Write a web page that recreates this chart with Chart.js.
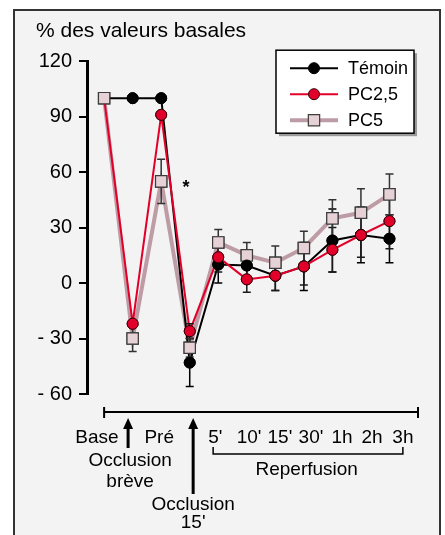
<!DOCTYPE html>
<html lang="fr">
<head>
<meta charset="utf-8">
<style>
  body { margin: 0; background: #fff; }
  /* grey panel behind the chart */
  #frame { position: absolute; left: 13px; top: 9px; width: 424px; height: 540px; border: 2px solid #333; background: #f3f3f3; }
  #c { position: absolute; left: 0; top: 0; }
</style>
</head>
<body>
<div id="frame"></div>
<canvas id="c" width="445" height="535"></canvas>

<script src="https://cdn.jsdelivr.net/npm/chart.js"></script>
<script>
// Data (% des valeurs basales)
const categories = ['Base', 'Occlusion brève', 'Pré', "Occlusion 15'", "5'", "10'", "15'", "30'", '1h', '2h', '3h'];
const temoin = [100, 100, 100, -43, 10, 9.5, 4, 9, 23, 26, 24];
const temoinErr = [null, null, null, 13, 10, 6, 8, 13, 17, 15, 13];
const pc25 = [100, -22, 91, -26, 14, 2, 4, 9, 18, 26, 33.5];
const pc25Err = [null, null, null, 4, 8, 7, 8, 10, 12, 12, 15];
const pc5 = [100, -30, 55, -35, 22, 15, 11, 19, 35, 38, 48];
const pc5Err = [null, 7, 12, 5, 7, 7, 9, 9, 10, 13, 11];

// Axis ticks and labels
const yTicks = [-60, -30, 0, 30, 60, 90, 120];
const yTickLabels = ['- 60', '- 30', '0', '30', '60', '90', '120'];
const xAxisLabels = ['Base', 'Pré', "5'", "10'", "15'", "30'", '1h', '2h', '3h'];
// where each label sits on the x scale (labels are slightly off the points in the figure)
const xAxisLabelPos = [-0.25, 1.93, 3.9, 5.08, 6.16, 7.25, 8.34, 9.39, 10.47];

const FONT = '"Liberation Sans", Arial, Helvetica, sans-serif';

function toPoints(values) {
    return values.map((v, i) => ({ x: i, y: v }));
}

// hide the base marker of the circle series, the square sits on top there
const hideFirst = (r) => (ctx) => ctx.dataIndex === 0 ? 0 : r;

// Error bars are drawn after the lines, then the markers are drawn again on top
const errorBars = {
    id: 'errorBars',
    afterDatasetsDraw(chart) {
        const ctx = chart.ctx, xs = chart.scales.x, ys = chart.scales.y;
        ctx.save();
        chart.data.datasets.forEach(ds => {
            ds.errors.forEach((e, i) => {
                if (e == null) return;
                const px = xs.getPixelForValue(i);
                const top = ys.getPixelForValue(ds.data[i].y + e);
                const bot = ys.getPixelForValue(ds.data[i].y - e);
                ctx.strokeStyle = ds.errorColor;
                ctx.lineWidth = 1.5;
                ctx.beginPath();
                ctx.moveTo(px, top); ctx.lineTo(px, bot);
                ctx.moveTo(px - 4, top); ctx.lineTo(px + 4, top);
                ctx.moveTo(px - 4, bot); ctx.lineTo(px + 4, bot);
                ctx.stroke();
            });
        });
        // redraw markers above the bars, bottom dataset first
        const metas = chart.getSortedVisibleDatasetMetas().slice().reverse();
        metas.forEach(meta => meta.data.forEach(pt => pt.draw(ctx, chart.chartArea)));
        ctx.restore();
    }
};

function drawMarker(ctx, style, x, y, r, fill, stroke, bw) {
    ctx.beginPath();
    if (style === 'rect') {
        const s = Math.SQRT1_2 * r;
        ctx.rect(x - s, y - s, 2 * s, 2 * s);
    } else {
        ctx.arc(x, y, r, 0, Math.PI * 2);
    }
    ctx.fillStyle = fill;
    ctx.fill();
    ctx.lineWidth = bw;
    ctx.strokeStyle = stroke;
    ctx.stroke();
}

// Boxed legend in the top right corner
const boxLegend = {
    id: 'boxLegend',
    afterDraw(chart) {
        const ctx = chart.ctx, area = chart.chartArea;
        const w = 138, h = 83;
        const bx = area.right - 4 - w, by = area.top - 11;
        ctx.save();
        ctx.fillStyle = '#9a9a9a';
        ctx.fillRect(bx + 3, by + 3, w, h);
        ctx.fillStyle = '#fff';
        ctx.fillRect(bx, by, w, h);
        ctx.strokeStyle = '#000';
        ctx.lineWidth = 1.5;
        ctx.strokeRect(bx, by, w, h);
        chart.data.datasets.forEach((ds, i) => {
            const ry = by + 18 + i * 26;
            ctx.strokeStyle = ds.borderColor;
            ctx.lineWidth = ds.borderWidth;
            ctx.beginPath();
            ctx.moveTo(bx + 14, ry); ctx.lineTo(bx + 62, ry);
            ctx.stroke();
            drawMarker(ctx, ds.pointStyle, bx + 38, ry, ds.legendRadius, ds.pointBackgroundColor, ds.pointBorderColor, ds.pointBorderWidth);
            ctx.fillStyle = '#000';
            ctx.font = '18px ' + FONT;
            ctx.textAlign = 'left';
            ctx.textBaseline = 'middle';
            ctx.fillText(ds.label, bx + 72, ry + 1);
        });
        ctx.restore();
    }
};

function upArrow(ctx, px, top, bottom) {
    ctx.beginPath();
    ctx.moveTo(px, top);
    ctx.lineTo(px - 5, top + 11);
    ctx.lineTo(px + 5, top + 11);
    ctx.closePath();
    ctx.fill();
    ctx.fillRect(px - 1.5, top + 9, 3, bottom - top - 9);
}

// Time axis drawn under the plot: line, labels, arrows and reperfusion bracket
const timeAxis = {
    id: 'timeAxis',
    afterDraw(chart) {
        const ctx = chart.ctx, xs = chart.scales.x, ys = chart.scales.y;
        const axisY = chart.chartArea.bottom + 18;
        const x0 = xs.getPixelForValue(0), x1 = xs.getPixelForValue(11);
        ctx.save();
        ctx.strokeStyle = '#000';
        ctx.fillStyle = '#000';
        ctx.lineWidth = 2;
        ctx.beginPath();
        ctx.moveTo(x0, axisY); ctx.lineTo(x1, axisY);
        ctx.moveTo(x0, axisY - 5); ctx.lineTo(x0, axisY + 6);
        ctx.moveTo(x1, axisY - 5); ctx.lineTo(x1, axisY + 6);
        ctx.stroke();

        ctx.font = '19px ' + FONT;
        ctx.textAlign = 'center';
        ctx.textBaseline = 'alphabetic';
        xAxisLabels.forEach((t, i) => ctx.fillText(t, xs.getPixelForValue(xAxisLabelPos[i]), axisY + 31));

        // occlusion arrows
        const a1 = xs.getPixelForValue(0.84), a2 = xs.getPixelForValue(3.12);
        upArrow(ctx, a1, axisY + 6, axisY + 36);
        upArrow(ctx, a2, axisY + 6, axisY + 82);
        ctx.fillText('Occlusion', xs.getPixelForValue(0.91), axisY + 54);
        ctx.fillText('brève', xs.getPixelForValue(0.91), axisY + 75);
        ctx.fillText('Occlusion', a2, axisY + 98);
        ctx.fillText("15'", a2, axisY + 116);

        // reperfusion bracket
        const b0 = xs.getPixelForValue(3.82), b1 = xs.getPixelForValue(10.47);
        ctx.lineWidth = 1.5;
        ctx.beginPath();
        ctx.moveTo(b0, axisY + 35); ctx.lineTo(b0, axisY + 42);
        ctx.lineTo(b1, axisY + 42); ctx.lineTo(b1, axisY + 35);
        ctx.stroke();
        ctx.fillText('Reperfusion', xs.getPixelForValue(7.1), axisY + 63);

        // significance mark
        ctx.font = 'bold 18px ' + FONT;
        ctx.fillText('*', xs.getPixelForValue(2.87), ys.getPixelForValue(54) + 10);
        ctx.restore();
    }
};

const ctx = document.getElementById('c').getContext('2d');
const chart = new Chart(ctx, {
    type: 'line',
    data: {
        labels: categories,
        datasets: [{
            label: 'Témoin',
            data: toPoints(temoin),
            errors: temoinErr,
            errorColor: '#000',
            order: 1,
            borderColor: '#000',
            borderWidth: 2,
            pointStyle: 'circle',
            pointRadius: hideFirst(5.5),
            legendRadius: 5.5,
            pointBackgroundColor: '#000',
            pointBorderColor: '#000',
            pointBorderWidth: 1
        }, {
            label: 'PC2,5',
            data: toPoints(pc25),
            errors: pc25Err,
            errorColor: '#1a1a1a',
            order: 0,
            borderColor: '#e2002b',
            borderWidth: 2,
            pointStyle: 'circle',
            pointRadius: hideFirst(5.5),
            legendRadius: 5.5,
            pointBackgroundColor: '#e2002b',
            pointBorderColor: '#3a0008',
            pointBorderWidth: 1
        }, {
            label: 'PC5',
            data: toPoints(pc5),
            errors: pc5Err,
            errorColor: '#333',
            order: 2,
            borderColor: '#bd9ca5',
            borderWidth: 4,
            pointStyle: 'rect',
            pointRadius: 8,
            legendRadius: 8,
            pointBackgroundColor: '#e6d1d6',
            pointBorderColor: '#3c3c3c',
            pointBorderWidth: 1.2
        }]
    },
    options: {
        responsive: false,
        animation: false,
        devicePixelRatio: 1,
        layout: { padding: { left: 36, top: 19, right: 27, bottom: 141 } },
        plugins: {
            legend: { display: false },
            tooltip: { enabled: false },
            title: {
                display: true,
                text: '% des valeurs basales',
                align: 'start',
                color: '#000',
                font: { family: FONT, size: 21, weight: 'normal' },
                padding: { top: 0, bottom: 17 }
            }
        },
        scales: {
            x: { type: 'linear', min: -0.6, max: 11, display: false },
            y: {
                min: -60,
                max: 120,
                afterFit(scale) { scale.width = 51; },
                afterBuildTicks(scale) { scale.ticks = yTicks.map(v => ({ value: v })); },
                ticks: {
                    color: '#000',
                    padding: 7,
                    font: { family: FONT, size: 20 },
                    callback: (v) => yTickLabels[yTicks.indexOf(v)]
                },
                grid: { drawOnChartArea: false, drawTicks: true, tickLength: 8, color: '#000', lineWidth: 2 },
                border: { display: true, color: '#000', width: 3 }
            }
        }
    },
    plugins: [errorBars, boxLegend, timeAxis]
});
</script>
</body>
</html>
